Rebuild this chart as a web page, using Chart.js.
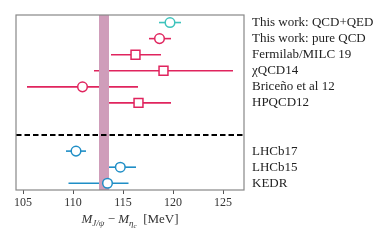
<!DOCTYPE html>
<html>
<head>
<meta charset="utf-8">
<script src="https://cdn.jsdelivr.net/npm/chart.js@4"></script>
<style>
  html, body { margin: 0; padding: 0; background: #fff; }
  #wrap { width: 390px; height: 241px; }
</style>
</head>
<body>
<div id="wrap"><canvas id="chart" width="390" height="241"></canvas></div>
<script>
// results, top to bottom (row 7 is the separator between lattice and experiment)
const labels  = ['This work: QCD+QED', 'This work: pure QCD', 'Fermilab/MILC 19', 'χQCD14',
                 'Briceño et al 12', 'HPQCD12', 'LHCb17', 'LHCb15', 'KEDR'];
const rows    = [0, 1, 2, 3, 4, 5, 8, 9, 10];
const centers = [119.7, 118.65, 116.25, 119.05, 110.95, 116.55, 110.3, 114.73, 113.45];
const lows    = [118.6, 117.6, 113.8, 112.1, 105.4, 113.4, 109.3, 113.25, 109.55];
const highs   = [120.8, 119.8, 118.8, 126.0, 116.5, 119.8, 111.3, 116.3, 115.55];
const groups  = ['qed', 'qcd', 'qcd', 'qcd', 'qcd', 'qcd', 'exp', 'exp', 'exp'];
const markers = ['circle', 'circle', 'rect', 'rect', 'circle', 'rect', 'circle', 'circle', 'circle'];
const xTicks  = [105, 110, 115, 120, 125];
const pdgBand = [112.6, 113.6];
const separatorRow = 7;

const colors = { qed: '#3ec3bc', qcd: '#e0245e', exp: '#1f8ec6' };
const serif = "'Liberation Serif', 'DejaVu Serif', serif";

// one scatter dataset per colour/marker combination
const datasets = [];
['qed', 'qcd', 'exp'].forEach(g => {
  ['circle', 'rect'].forEach(m => {
    const pts = [];
    rows.forEach((r, i) => {
      if (groups[i] === g && markers[i] === m) pts.push({ x: centers[i], y: r });
    });
    if (pts.length) {
      datasets.push({
        data: pts,
        pointStyle: m,
        pointRadius: m === 'rect' ? 6.3 : 4.8,
        pointBackgroundColor: '#fff',
        pointBorderColor: colors[g],
        pointBorderWidth: 1.5,
        showLine: false
      });
    }
  });
});

// band, separator, error bars and frame
const decor = {
  id: 'decor',
  beforeDatasetsDraw(chart) {
    const { ctx, chartArea: a, scales: { x, y } } = chart;
    ctx.save();
    ctx.beginPath();
    ctx.rect(a.left, a.top, a.right - a.left, a.bottom - a.top);
    ctx.clip();
    // error bars
    ctx.lineWidth = 1.6;
    rows.forEach((r, i) => {
      const py = y.getPixelForValue(r);
      ctx.strokeStyle = colors[groups[i]];
      ctx.beginPath();
      ctx.moveTo(x.getPixelForValue(lows[i]), py);
      ctx.lineTo(x.getPixelForValue(highs[i]), py);
      ctx.stroke();
    });
    // average band
    const b0 = x.getPixelForValue(pdgBand[0]), b1 = x.getPixelForValue(pdgBand[1]);
    ctx.fillStyle = '#cf9dba';
    ctx.fillRect(b0, a.top, b1 - b0, a.bottom - a.top);
    // separator
    const sy = y.getPixelForValue(separatorRow);
    ctx.strokeStyle = '#000';
    ctx.lineWidth = 2;
    ctx.setLineDash([5.5, 3]);
    ctx.beginPath();
    ctx.moveTo(a.left, sy);
    ctx.lineTo(a.right, sy);
    ctx.stroke();
    ctx.restore();
  },
  afterDraw(chart) {
    const { ctx, chartArea: a } = chart;
    ctx.save();
    ctx.strokeStyle = '#888';
    ctx.lineWidth = 1.2;
    ctx.strokeRect(a.left, a.top, a.right - a.left, a.bottom - a.top);
    // axis title with subscripts
    const parts = [
      { t: 'M', f: 'italic 13px ' + serif, dy: 0 },
      { t: 'J/ψ', f: 'italic 9px ' + serif, dy: 2.5 },
      { t: ' − ', f: '13px ' + serif, dy: 0 },
      { t: 'M', f: 'italic 13px ' + serif, dy: 0 },
      { t: 'η', f: 'italic 9px ' + serif, dy: 2.5 },
      { t: 'c', f: 'italic 7px ' + serif, dy: 4.5 },
      { t: '  [MeV]', f: '13px ' + serif, dy: 0 }
    ];
    let w = 0;
    parts.forEach(p => { ctx.font = p.f; p.w = ctx.measureText(p.t).width; w += p.w; });
    let px = (a.left + a.right) / 2 - w / 2;
    const base = 223;
    ctx.fillStyle = '#333';
    ctx.textBaseline = 'alphabetic';
    parts.forEach(p => { ctx.font = p.f; ctx.fillText(p.t, px, base + p.dy); px += p.w; });
    ctx.restore();
  }
};

new Chart(document.getElementById('chart'), {
  type: 'scatter',
  data: { datasets },
  options: {
    responsive: false,
    animation: false,
    layout: { padding: { left: 16, top: 15, right: 0, bottom: 0 } },
    plugins: { legend: { display: false }, tooltip: { enabled: false } },
    scales: {
      x: {
        type: 'linear',
        min: 104.3,
        max: 127.1,
        afterBuildTicks: s => { s.ticks = xTicks.map(v => ({ value: v })); },
        afterFit: s => { s.height = 51; },
        grid: { drawOnChartArea: false, drawTicks: true, tickLength: 4, color: '#555', tickWidth: 1 },
        border: { display: false },
        ticks: { color: '#333', font: { family: serif, size: 12 }, padding: 2, maxRotation: 0 }
      },
      y: {
        type: 'linear',
        position: 'right',
        reverse: true,
        min: -0.47,
        max: 10.42,
        afterBuildTicks: s => { s.ticks = rows.map(v => ({ value: v })); },
        afterFit: s => { s.width = 146; },
        grid: { display: false },
        border: { display: false },
        ticks: {
          color: '#222',
          font: { family: serif, size: 13 },
          padding: 0,
          callback: v => labels[rows.indexOf(v)] || ''
        }
      }
    }
  },
  plugins: [decor]
});
</script>
</body>
</html>
